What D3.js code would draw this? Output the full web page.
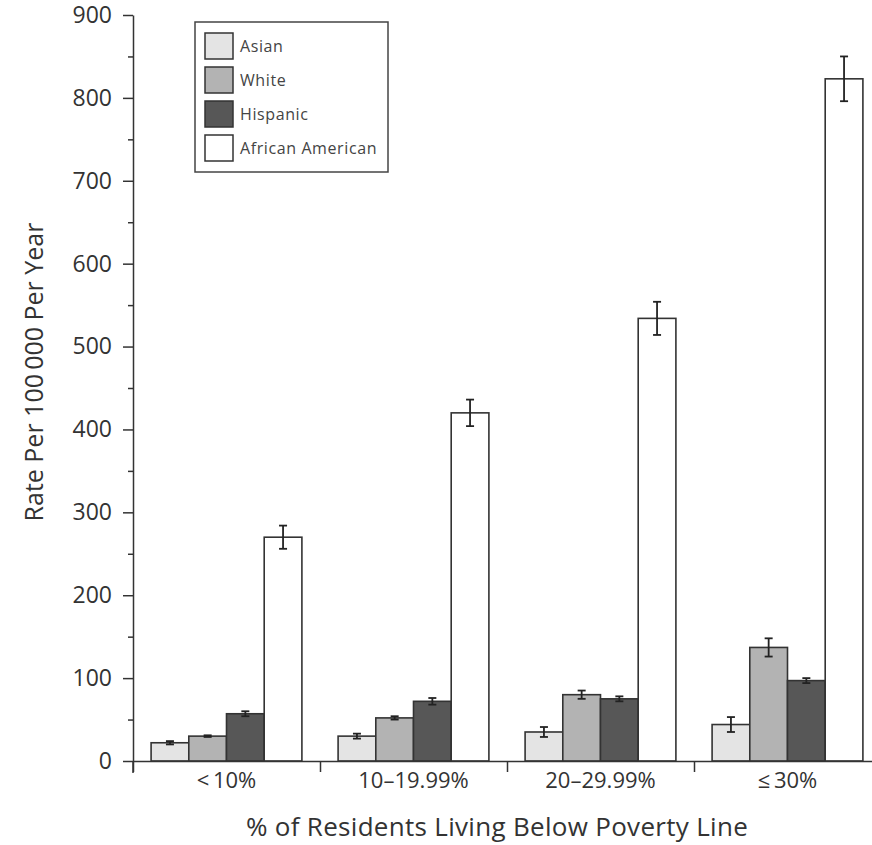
<!DOCTYPE html>
<html>
<head>
<meta charset="utf-8">
<script src="https://cdn.jsdelivr.net/npm/d3@7"></script>
<style>
  body { margin: 0; background: #fff; }
  svg { display: block; font-family: "Open Sans", "DejaVu Sans", sans-serif; }
  .axis path, .axis line { stroke: #333; stroke-width: 1.5; }
  .axis text { fill: #333; font-size: 22px; font-family: "Open Sans", sans-serif; }
  .axis--y text { font-size: 23px; }
</style>
</head>
<body>
<svg width="872" height="845"></svg>
<script>
// data
var categories = ["<\u200910%", "10\u201319.99%", "20\u201329.99%", "\u2264\u200930%"];
var groups = ["Asian", "White", "Hispanic", "African American"];
var asian    = [22, 30, 35, 44];
var white    = [30, 52, 80, 137];
var hispanic = [57, 72, 75, 97];
var african  = [270, 420, 534, 823];
var asianErr    = [2, 3, 6, 9];
var whiteErr    = [1, 2, 5, 11];
var hispanicErr = [3, 4, 3, 3];
var africanErr  = [14, 16, 20, 27];
var yTicks = [0, 100, 200, 300, 400, 500, 600, 700, 800, 900];

var colors = ["#e4e4e4", "#b3b3b3", "#575757", "#ffffff"];
var series = [asian, white, hispanic, african];
var errs = [asianErr, whiteErr, hispanicErr, africanErr];

var data = [];
categories.forEach(function (c, i) {
    groups.forEach(function (g, j) {
        data.push({ cat: c, group: g, value: series[j][i], err: errs[j][i], color: colors[j] });
    });
});

var svg = d3.select("svg");

var plotLeft = 133, plotRight = 881, plotTop = 15, plotBottom = 761;

var x0 = d3.scaleBand().domain(categories).range([plotLeft, plotRight]).paddingInner(0).paddingOuter(0);
var x1 = d3.scaleBand().domain(groups).range([0, x0.bandwidth()]).paddingInner(0).paddingOuter(0.48);
var y = d3.scaleLinear().domain([0, 900]).range([plotBottom, plotTop]);
var xb = d3.scaleLinear().domain([0, categories.length]).range([plotLeft, plotRight]);

// bars
svg.append("g").selectAll(".bar")
    .data(data)
  .enter().append("rect")
    .attr("class", "bar")
    .attr("x", function (d) { return x0(d.cat) + x1(d.group); })
    .attr("y", function (d) { return y(d.value); })
    .attr("width", x1.bandwidth())
    .attr("height", function (d) { return y(0) - y(d.value); })
    .style("fill", function (d) { return d.color; })
    .style("stroke", "#333")
    .style("stroke-width", 1.6);

// error bars
var eb = svg.append("g").selectAll(".err")
    .data(data)
  .enter().append("g")
    .attr("class", "err")
    .attr("transform", function (d) { return "translate(" + (x0(d.cat) + x1(d.group) + x1.bandwidth() / 2) + ",0)"; });
eb.append("line")
    .attr("y1", function (d) { return y(d.value + d.err); })
    .attr("y2", function (d) { return y(d.value - d.err); })
    .style("stroke", "#222").style("stroke-width", 1.8);
eb.append("line").attr("x1", -4).attr("x2", 4)
    .attr("y1", function (d) { return y(d.value + d.err); })
    .attr("y2", function (d) { return y(d.value + d.err); })
    .style("stroke", "#222").style("stroke-width", 1.8);
eb.append("line").attr("x1", -4).attr("x2", 4)
    .attr("y1", function (d) { return y(d.value - d.err); })
    .attr("y2", function (d) { return y(d.value - d.err); })
    .style("stroke", "#222").style("stroke-width", 1.8);

// y axis: minor ticks then major ticks
svg.append("g")
    .attr("class", "axis")
    .attr("transform", "translate(" + plotLeft + ",0)")
    .call(d3.axisLeft(y).tickValues(d3.range(50, 900, 100)).tickSize(5).tickFormat(""))
    .select(".domain").remove();

svg.append("g")
    .attr("class", "axis axis--y")
    .attr("transform", "translate(" + plotLeft + ",0)")
    .call(d3.axisLeft(y).tickValues(yTicks).tickSize(10).tickSizeOuter(0).tickPadding(11));

// extend y axis line below the baseline
svg.append("line")
    .attr("x1", plotLeft).attr("x2", plotLeft)
    .attr("y1", plotBottom).attr("y2", plotBottom + 12)
    .style("stroke", "#333").style("stroke-width", 1.5);

// x axis
svg.append("g")
    .attr("class", "axis")
    .attr("transform", "translate(0," + plotBottom + ")")
    .call(d3.axisBottom(xb).tickValues(d3.range(0, categories.length + 1)).tickSize(11).tickSizeOuter(0).tickFormat(""));

svg.append("g")
    .attr("class", "axis axis--x")
    .attr("transform", "translate(0," + plotBottom + ")")
    .call(d3.axisBottom(x0).tickSize(0).tickPadding(11))
    .call(function (g) { g.select(".domain").remove(); });

// axis titles
svg.append("text")
    .attr("transform", "translate(43,372) rotate(-90)")
    .attr("text-anchor", "middle")
    .style("font-size", "25px")
    .style("fill", "#333")
    .text("Rate Per 100\u2009000 Per Year");

svg.append("text")
    .attr("x", 497)
    .attr("y", 836)
    .attr("text-anchor", "middle")
    .style("font-size", "26px")
    .style("letter-spacing", "0.3px")
    .style("fill", "#333")
    .text("% of Residents Living Below Poverty Line");

// legend
var legend = svg.append("g").attr("transform", "translate(195,22)");
legend.append("rect")
    .attr("width", 193).attr("height", 150)
    .style("fill", "#fff").style("stroke", "#444").style("stroke-width", 1.5);
var item = legend.selectAll(".item")
    .data(groups)
  .enter().append("g")
    .attr("class", "item")
    .attr("transform", function (d, i) { return "translate(10," + (11 + i * 34) + ")"; });
item.append("rect")
    .attr("width", 28).attr("height", 26)
    .style("fill", function (d, i) { return colors[i]; })
    .style("stroke", "#333").style("stroke-width", 1.5);
item.append("text")
    .attr("x", 35).attr("y", 19)
    .style("font-size", "16px")
    .style("letter-spacing", "0.6px")
    .style("fill", "#444")
    .text(function (d) { return d; });
</script>
</body>
</html>
